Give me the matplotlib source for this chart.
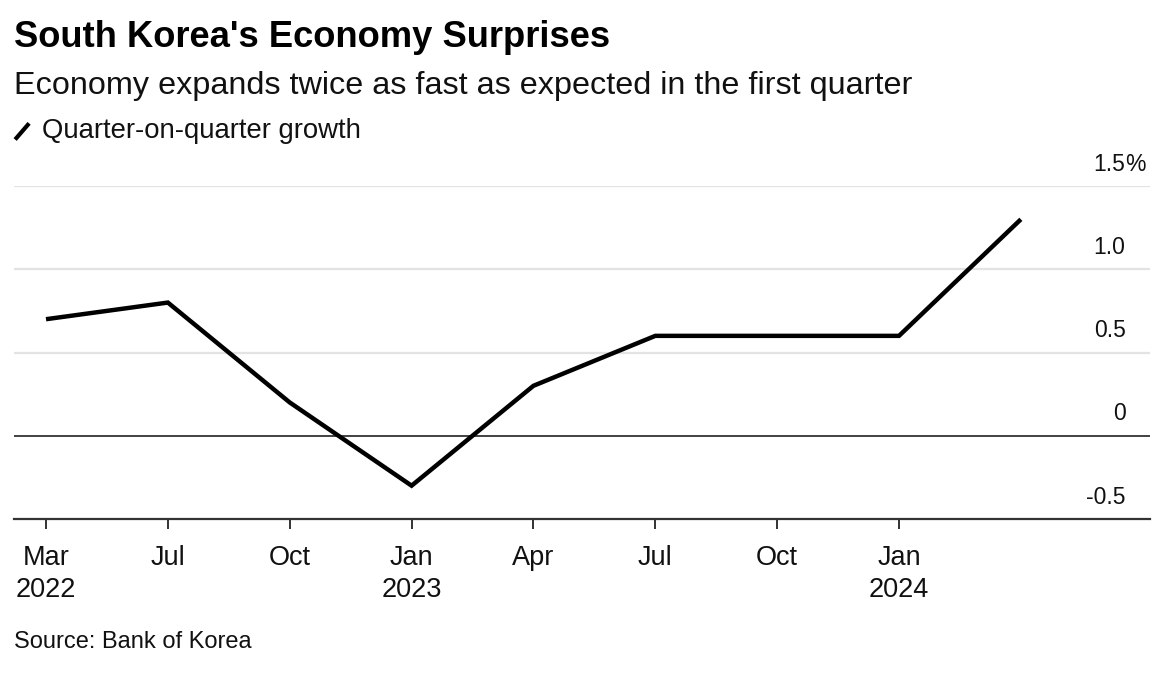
import matplotlib.pyplot as plt
from matplotlib.lines import Line2D

# ── Data ──────────────────────────────────────────────────────────────────────
quarters = ["Mar 2022", "Jun 2022", "Sep 2022", "Dec 2022", "Mar 2023",
            "Jun 2023", "Sep 2023", "Dec 2023", "Mar 2024"]
growth = [0.7, 0.8, 0.2, -0.3, 0.3, 0.6, 0.6, 0.6, 1.3]

tick_labels = ["Mar\n2022", "Jul", "Oct", "Jan\n2023", "Apr", "Jul", "Oct", "Jan\n2024"]
y_ticks = [-0.5, 0, 0.5, 1.0, 1.5]
y_labels = ["-0.5", "0", "0.5", "1.0", "1.5"]

FONT = "Liberation Sans"
plt.rcParams["font.family"] = [FONT, "DejaVu Sans"]
TXT = "#111111"

fig = plt.figure(figsize=(11.64, 6.74), dpi=100)
ax = fig.add_axes([0.012, 0.230, 0.976, 0.494])

x = list(range(len(growth)))
ax.plot(x, growth, color="black", lw=3.2, solid_joinstyle="miter",
        solid_capstyle="butt", zorder=5)

ax.set_xlim(-0.263, 9.06)
ax.set_ylim(-0.5, 1.5)

# gridlines
for v in y_ticks:
    if v == -0.5:
        continue
    if v == 0:
        ax.axhline(v, color="#333333", lw=1.3, zorder=3)
    else:
        ax.axhline(v, color="#e3e3e3", lw=1.6, zorder=1)

# y labels above gridlines; numbers right aligned, "%" hangs past them
LABEL_X = 0.9785  # axes fraction where the numbers end
for v, lab in zip(y_ticks, y_labels):
    ax.annotate(lab, xy=(LABEL_X, v), xycoords=ax.get_yaxis_transform(),
                xytext=(0, 7.5), textcoords="offset points",
                ha="right", va="bottom", fontsize=16.5, color=TXT)
ax.annotate("%", xy=(LABEL_X, y_ticks[-1]), xycoords=ax.get_yaxis_transform(),
            xytext=(0, 7.5), textcoords="offset points",
            ha="left", va="bottom", fontsize=16.5, color=TXT)

for s in ["top", "right", "left"]:
    ax.spines[s].set_visible(False)
ax.spines["bottom"].set_color("#333333")
ax.spines["bottom"].set_linewidth(1.6)
ax.set_yticks([])

ax.set_xticks(range(len(tick_labels)))
ax.set_xticklabels(tick_labels, fontsize=19.5, color=TXT, linespacing=1.3)
ax.tick_params(axis="x", length=7.5, width=1.4, color="#333333", pad=11)

# ── Header / footer ──────────────────────────────────────────────────────────
fig.text(0.012, 0.945, "South Korea's Economy Surprises", fontsize=26.2,
         fontweight="bold", ha="left", va="center", color="black")
fig.text(0.012, 0.872, "Economy expands twice as fast as expected in the first quarter",
         fontsize=23.3, ha="left", va="center", color=TXT)

key = Line2D([0.013, 0.025], [0.793, 0.817], transform=fig.transFigure,
             color="black", lw=3, solid_capstyle="butt")
fig.add_artist(key)
fig.text(0.036, 0.805, "Quarter-on-quarter growth", fontsize=19.8,
         ha="left", va="center", color=TXT)

fig.text(0.012, 0.047, "Source: Bank of Korea", fontsize=17,
         ha="left", va="center", color=TXT)

fig.savefig("out.png", dpi=100)
